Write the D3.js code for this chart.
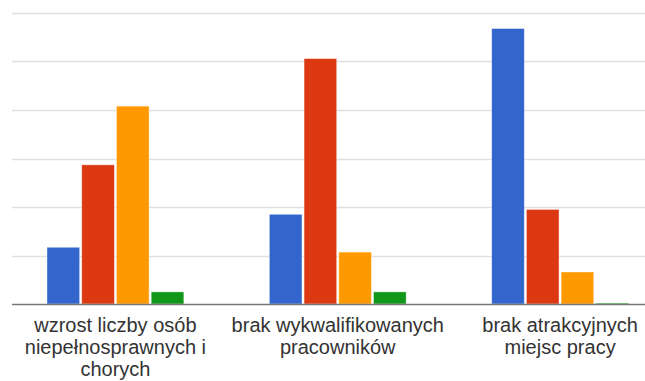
<!DOCTYPE html>
<html><head><meta charset="utf-8">
<script src="https://cdn.jsdelivr.net/npm/d3@7"></script>
<style>html,body{margin:0;padding:0;background:#fff;}svg{display:block;}</style>
</head><body>
<svg id="c" width="645" height="381"></svg>
<script>
const categories = ["wzrost liczby osób niepełnosprawnych i chorych", "brak wykwalifikowanych pracowników", "brak atrakcyjnych miejsc pracy"];
const categoryLines = [["wzrost liczby osób", "niepełnosprawnych i", "chorych"], ["brak wykwalifikowanych", "pracowników"], ["brak atrakcyjnych", "miejsc pracy"]];
const seriesNames = ["s1", "s2", "s3", "s4"];
const seriesColors = ["#3366cc", "#dc3912", "#ff9900", "#109618"];
const s1 = [11.7, 18.5, 56.8];
const s2 = [28.7, 50.6, 19.5];
const s3 = [40.8, 10.7, 6.6];
const s4 = [2.5, 2.5, 0.2];
const seriesValues = [s1, s2, s3, s4];
const gridTicks = [0, 10, 20, 30, 40, 50, 60];

const svg = d3.select("#c");
const baseY = 304, topY = 13;
const y = d3.scaleLinear().domain([0, 60]).range([baseY, topY]);
const x0 = d3.scaleBand().domain(categories).range([4.25, 671.25]).padding(0);
const step = x0.bandwidth();
const x1 = d3.scaleBand().domain(seriesNames).range([42.75, step - 42.75]).paddingInner(0.06).paddingOuter(0);

// gridlines
svg.append("g").selectAll("line").data(gridTicks.filter(t => t > 0)).join("line")
  .attr("x1", 12).attr("x2", 645)
  .attr("y1", d => Math.round(y(d)) + 0.5).attr("y2", d => Math.round(y(d)) + 0.5)
  .attr("stroke", "#e0e0e0").attr("stroke-width", 1.5);

// bars
const groups = svg.append("g").selectAll("g").data(categories).join("g")
  .attr("transform", c => `translate(${x0(c)},0)`);
groups.selectAll("rect").data((c, i) => seriesNames.map((s, j) => ({s, j, v: seriesValues[j][i]})))
  .join("rect")
  .attr("x", d => x1(d.s))
  .attr("width", x1.bandwidth())
  .attr("y", d => y(d.v))
  .attr("height", d => baseY - y(d.v))
  .attr("fill", d => seriesColors[d.j])
  .attr("stroke", "#ffffff").attr("stroke-opacity", 0.5).attr("stroke-width", 0.8);

// baseline
svg.append("line").attr("x1", 12).attr("x2", 645).attr("y1", baseY + 0.5).attr("y2", baseY + 0.5)
  .attr("stroke", "#777").attr("stroke-width", 1.5);

// category labels
const lab = svg.append("g").selectAll("text").data(categories).join("text")
  .attr("text-anchor", "middle")
  .attr("font-family", "Arial, 'Liberation Sans', sans-serif")
  .attr("font-size", 20).attr("fill", "#333");
lab.each(function(c, i) {
  const t = d3.select(this);
  const cx = x0(c) + step / 2;
  categoryLines[i].forEach((ln, k) => {
    t.append("tspan").attr("x", cx).attr("y", 332 + k * 22).text(ln);
  });
});
</script>
</body></html>
